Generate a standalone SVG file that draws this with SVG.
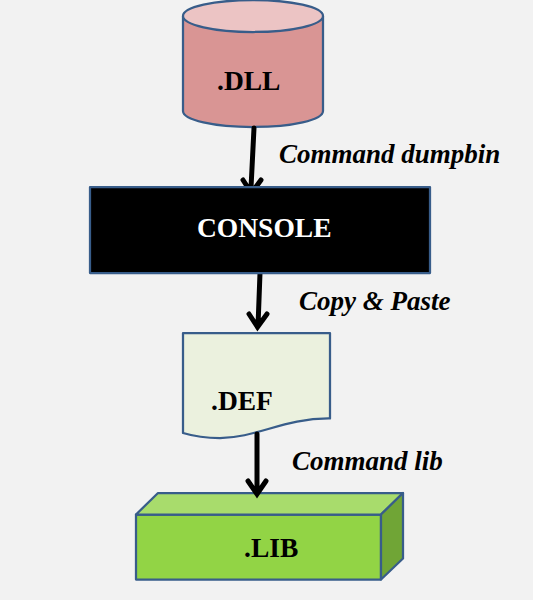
<svg xmlns="http://www.w3.org/2000/svg" width="533" height="600" viewBox="0 0 533 600">
<style>
.s{stroke:#385d8a;stroke-width:2.25;stroke-linejoin:round}
.t{font-family:"Liberation Serif",serif;font-weight:bold;font-size:27.5px}
.l{font-family:"Liberation Serif",serif;font-weight:bold;font-style:italic;font-size:27px;fill:#000}
.c{fill:none;stroke:#000;stroke-width:5;stroke-linecap:round;stroke-linejoin:miter}
</style>
<rect width="533" height="600" fill="#f2f2f2"/>
<g id="dll">
<path class="s" fill="#d99594" d="M183 16V111C183 120 214 127 253 127S323 120 323 111V16Z"/>
<ellipse class="s" fill="#ecc4c4" cx="253" cy="16" rx="70" ry="16"/>
<text class="t" x="217" y="90">.DLL</text>
</g>
<g id="def">
<path class="s" fill="#ebf1de" d="M183 333H330V418.500C285 418 256 438 220 438C203 438 193 436 183 433Z"/>
<text class="t" x="211" y="410">.DEF</text>
</g>
<g id="lib">
<path class="s" fill="#92d445" d="M136 514.500H381V579.500H136Z"/>
<path class="s" fill="#a8dc6c" d="M136 514.500L158 493H403L381 514.500Z"/>
<path class="s" fill="#70a536" d="M381 514.500L403 493V558.500L381 579.500Z"/>
<text class="t" x="244" y="557">.LIB</text>
</g>
<g id="connectors">
<path class="c" d="M254 128L251 188M243 180L251.500 193L261 180"/>
<path class="c" d="M260 273L258 326M249 314L257.500 327L267 314"/>
<path class="c" d="M257 434V493M248 481L257 494L266 481"/>
</g>
<g id="console">
<rect class="s" fill="#000" x="90" y="187" width="340" height="86"/>
<text class="t" x="197" y="237" fill="#fff">CONSOLE</text>
</g>
<g id="labels">
<text class="l" x="279" y="163">Command dumpbin</text>
<text class="l" x="299" y="310">Copy &amp; Paste</text>
<text class="l" x="292" y="470">Command lib</text>
</g>
</svg>
